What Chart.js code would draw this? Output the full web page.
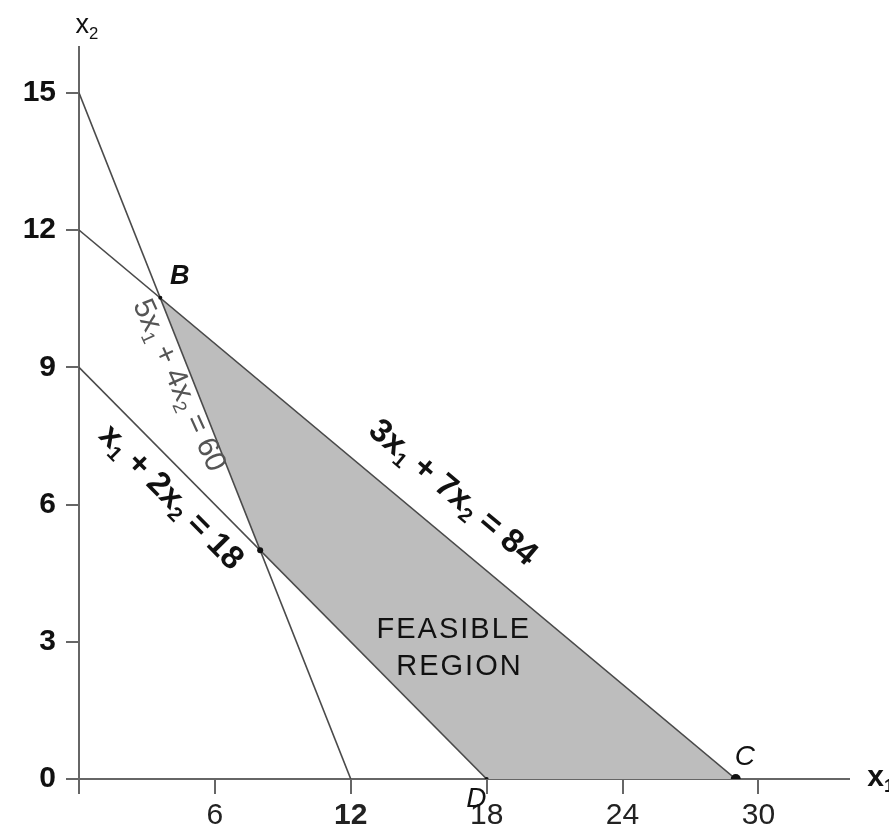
<!DOCTYPE html>
<html>
<head>
<meta charset="utf-8">
<script src="https://cdn.jsdelivr.net/npm/chart.js@4"></script>
<style>
body { margin: 0; background: #fff; }
</style>
</head>
<body>
<canvas id="lp" width="889" height="832"></canvas>
<script>
// tick labels
const xTicks = [6, 12, 18, 24, 30];
const yTicks = [0, 3, 6, 9, 12, 15];

// constraint lines as drawn (x1, x2)
const line60X = [0, 12];
const line60Y = [15, 0];
const line84X = [0, 29];
const line84Y = [12, 0];
const line18X = [0, 18];
const line18Y = [9, 0];

// feasible region: upper edge B -> C, lower edge B -> (8,5) -> D -> C
const upperX = [3.59, 29];
const upperY = [10.52, 0];
const lowerX = [3.59, 8, 18, 29];
const lowerY = [10.52, 5, 0, 0];

// corner dots
const dotX = [3.59, 8, 18, 29];
const dotY = [10.52, 5, 0, 0];
const dotR = [2, 3, 2, 5];

function pts(xs, ys) {
  return xs.map((v, i) => ({x: v, y: ys[i]}));
}

const LINE = '#4a4a4a';
const FONT = '"Liberation Sans", Arial, sans-serif';

function lineSet(xs, ys) {
  return {
    data: pts(xs, ys), showLine: true, borderColor: LINE, borderWidth: 1.6,
    pointRadius: 0, fill: false
  };
}

// text with subscripts, parts = [[text, isSub], ...]
function drawParts(ctx, parts, x, y, angle, size, weight, color) {
  ctx.save();
  ctx.translate(x, y);
  ctx.rotate(angle);
  ctx.fillStyle = color;
  ctx.textBaseline = 'middle';
  ctx.textAlign = 'left';
  let total = 0;
  parts.forEach(p => {
    ctx.font = weight + ' ' + (p[1] ? size * 0.62 : size) + 'px ' + FONT;
    total += ctx.measureText(p[0]).width;
  });
  let cx = -total / 2;
  parts.forEach(p => {
    ctx.font = weight + ' ' + (p[1] ? size * 0.62 : size) + 'px ' + FONT;
    ctx.fillText(p[0], cx, p[1] ? size * 0.3 : 0);
    cx += ctx.measureText(p[0]).width;
  });
  ctx.restore();
}

const labels = {
  id: 'labels',
  afterDatasetsDraw(chart) {
    const ctx = chart.ctx;
    const xs = chart.scales.x, ys = chart.scales.y;
    const px = v => xs.getPixelForValue(v), py = v => ys.getPixelForValue(v);
    const ang = (lx, ly) => Math.atan2(py(ly[1]) - py(ly[0]), px(lx[1]) - px(lx[0]));

    drawParts(ctx, [['3x', 0], ['1', 1], [' + 7x', 0], ['2', 1], [' = 84', 0]],
      px(16.5), py(6.25), ang(line84X, line84Y), 33, 'bold', '#111');
    drawParts(ctx, [['5x', 0], ['1', 1], [' + 4x', 0], ['2', 1], [' = 60', 0]],
      px(4.4), py(8.6), ang(line60X, line60Y) - 0.05, 30, 'normal', '#555');
    drawParts(ctx, [['x', 0], ['1', 1], [' + 2x', 0], ['2', 1], [' = 18', 0]],
      px(4.05), py(6.15), ang(line18X, line18Y), 33, 'bold', '#111');

    ctx.save();
    ctx.fillStyle = '#111';
    ctx.textAlign = 'center';
    ctx.textBaseline = 'middle';
    ctx.font = 'normal 29px ' + FONT;
    ctx.letterSpacing = '2px';
    ctx.fillText('FEASIBLE', px(16.55), py(3.25));
    ctx.fillText('REGION', px(16.8), py(2.45));
    ctx.letterSpacing = '0px';

    ctx.font = 'italic bold 27px ' + FONT;
    ctx.fillText('B', px(4.45), py(10.98));
    ctx.font = 'italic normal 28px ' + FONT;
    ctx.fillText('C', px(29.4), py(0.47));
    ctx.fillText('D', px(17.55), py(-0.45));
    ctx.restore();

    // axis names
    drawParts(ctx, [['x', 0], ['2', 1]], px(0.35), 26, 0, 27, 'normal', '#111');
    drawParts(ctx, [['x', 0], ['1', 1]], px(35.4), py(0) - 1, 0, 30, 'bold', '#111');
  }
};

new Chart(document.getElementById('lp'), {
  type: 'scatter',
  data: {
    datasets: [
      {
        data: pts(dotX, dotY), pointRadius: dotR, pointBackgroundColor: '#111',
        pointBorderWidth: 0, showLine: false
      },
      lineSet(line60X, line60Y),
      lineSet(line84X, line84Y),
      lineSet(line18X, line18Y),
      {
        data: pts(upperX, upperY), showLine: true, borderWidth: 0, pointRadius: 0,
        backgroundColor: '#bdbdbd', fill: '+1'
      },
      {
        data: pts(lowerX, lowerY), showLine: true, borderWidth: 0, pointRadius: 0,
        fill: false
      }
    ]
  },
  options: {
    responsive: false,
    animation: false,
    layout: {padding: {left: 0, right: 40, top: 47, bottom: 0}},
    plugins: {legend: {display: false}, tooltip: {enabled: false}},
    scales: {
      x: {
        type: 'linear', min: 0, max: 34,
        // tick at 0 only extends the y axis below the origin
        afterBuildTicks: s => { s.ticks = [0].concat(xTicks).map(v => ({value: v})); },
        afterFit: s => { s.height = 53; },
        border: {color: '#666', width: 2},
        grid: {drawOnChartArea: false, drawTicks: true, tickLength: 15, color: '#666', lineWidth: 2},
        ticks: {
          padding: 4, color: '#222',
          callback: v => (v === 0 ? '' : v),
          font: c => ({family: FONT, size: 30, weight: c.tick && c.tick.value === 12 ? 'bold' : 'normal'})
        }
      },
      y: {
        type: 'linear', min: 0, max: 16,
        afterBuildTicks: s => { s.ticks = yTicks.map(v => ({value: v})); },
        afterFit: s => { s.width = 79; },
        border: {color: '#666', width: 2},
        grid: {drawOnChartArea: false, drawTicks: true, tickLength: 13, color: '#666', lineWidth: 2},
        ticks: {padding: 10, color: '#111', font: {family: FONT, size: 30, weight: 'bold'}}
      }
    }
  },
  plugins: [labels]
});
</script>
</body>
</html>
